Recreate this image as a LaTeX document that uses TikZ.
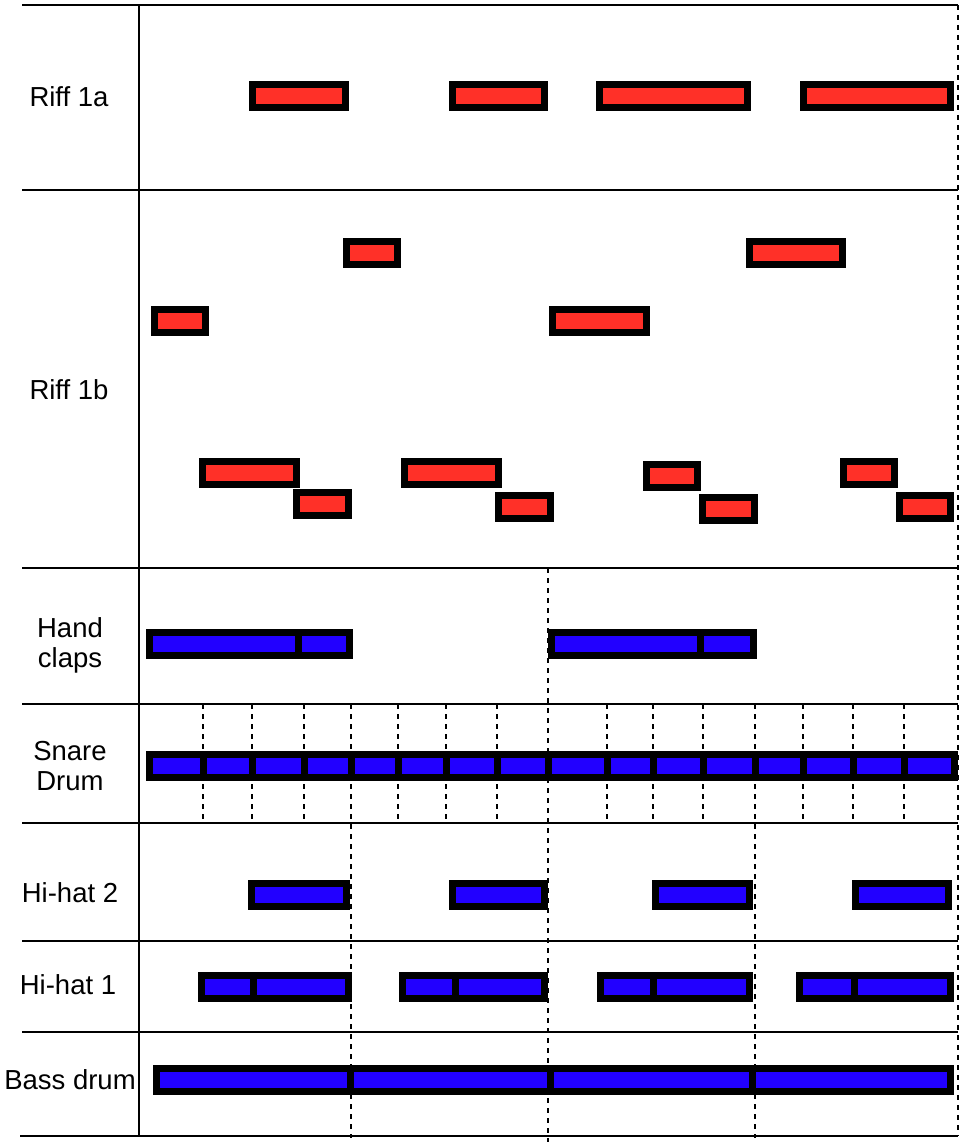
\documentclass[tikz,border=0pt]{standalone}
\usepackage{fontspec}
\setmainfont{Liberation Sans}
\usepackage{tikz}
\definecolor{riffred}{RGB}{255,48,40}
\definecolor{drumblue}{RGB}{34,0,255}

\begin{document}
\begin{tikzpicture}[x=1pt,y=-1pt,
  riff note/.style={rectangle,draw,line width=7pt,fill=riffred,inner sep=0pt,outer sep=0pt,minimum height=23pt,anchor=west},
  drum note/.style={riff note,fill=drumblue},
  grid line/.style={line width=2pt},
  beat line/.style={line width=2.8pt,dash pattern=on 5pt off 5pt},
  track name/.style={font=\fontsize{27.5}{30}\selectfont,align=center}]
\useasboundingbox (0,0) rectangle (968,1145);

% Grid
  \draw[grid line] (139,5) -- (139,1136);
  \draw[grid line] (22,5) -- (958,5);
  \draw[grid line] (22,190) -- (958,190);
  \draw[grid line] (22,568) -- (958,568);
  \draw[grid line] (22,704) -- (958,704);
  \draw[grid line] (22,823) -- (958,823);
  \draw[grid line] (22,941) -- (958,941);
  \draw[grid line] (22,1032) -- (958,1032);
  \draw[grid line] (20,1136) -- (958,1136);

% Beat lines
  \draw[beat line] (958,5) -- (958,1136);
  \draw[beat line] (548,568) -- (548,1142);
  \draw[beat line] (351,704) -- (351,1138);
  \draw[beat line] (755,704) -- (755,1138);
  \draw[beat line] (203,704) -- (203,823);
  \draw[beat line] (252,704) -- (252,823);
  \draw[beat line] (304,704) -- (304,823);
  \draw[beat line] (398,704) -- (398,823);
  \draw[beat line] (446,704) -- (446,823);
  \draw[beat line] (497,704) -- (497,823);
  \draw[beat line] (607,704) -- (607,823);
  \draw[beat line] (653,704) -- (653,823);
  \draw[beat line] (703,704) -- (703,823);
  \draw[beat line] (803,704) -- (803,823);
  \draw[beat line] (853,704) -- (853,823);
  \draw[beat line] (904,704) -- (904,823);

% Track names
  \node[track name] (riffa) at (69,97) {Riff 1a};
  \node[track name] (riffb) at (69,390) {Riff 1b};
  \node[track name] (claps) at (70,645) {Hand\\claps};
  \node[track name] (snare) at (70,766) {Snare\\Drum};
  \node[track name] (hihatb) at (70,893) {Hi-hat 2};
  \node[track name] (hihata) at (68,985) {Hi-hat 1};
  \node[track name] (bass) at (70,1080) {Bass drum};

% Riff 1a
  \node[riff note,minimum width=93pt] (ra1) at (252.5,96) {};
  \node[riff note,minimum width=92pt] (ra2) at (452.5,96) {};
  \node[riff note,minimum width=148pt] (ra3) at (599.5,96) {};
  \node[riff note,minimum width=147pt] (ra4) at (803.5,96) {};

% Riff 1b
  \node[riff note,minimum width=51pt] (rb1) at (154.5,321) {};
  \node[riff note,minimum width=94pt] (rb2) at (202.5,473) {};
  \node[riff note,minimum width=52pt] (rb3) at (296.5,504) {};
  \node[riff note,minimum width=51pt] (rb4) at (346.5,253) {};
  \node[riff note,minimum width=94pt] (rb5) at (404.5,473) {};
  \node[riff note,minimum width=52pt] (rb6) at (498.5,507) {};
  \node[riff note,minimum width=94pt] (rb7) at (552.5,321) {};
  \node[riff note,minimum width=51pt] (rb8) at (646.5,476) {};
  \node[riff note,minimum width=52pt] (rb9) at (702.5,509) {};
  \node[riff note,minimum width=93pt] (rb10) at (749.5,253) {};
  \node[riff note,minimum width=51pt] (rb11) at (843.5,473) {};
  \node[riff note,minimum width=51pt] (rb12) at (899.5,507) {};

% Hand claps
  \node[drum note,minimum width=148.5pt] (hc1) at (149.5,644) {};
  \node[drum note,minimum width=51.5pt] (hc2) at (298,644) {};
  \node[drum note,minimum width=148.5pt] (hc3) at (551.5,644) {};
  \node[drum note,minimum width=53.5pt] (hc4) at (700,644) {};

% Snare drum
  \node[drum note,minimum width=53.5pt] (sd1) at (149.5,765.5) {};
  \node[drum note,minimum width=49pt] (sd2) at (203,765.5) {};
  \node[drum note,minimum width=52pt] (sd3) at (252,765.5) {};
  \node[drum note,minimum width=47pt] (sd4) at (304,765.5) {};
  \node[drum note,minimum width=47pt] (sd5) at (351,765.5) {};
  \node[drum note,minimum width=48pt] (sd6) at (398,765.5) {};
  \node[drum note,minimum width=51pt] (sd7) at (446,765.5) {};
  \node[drum note,minimum width=51pt] (sd8) at (497,765.5) {};
  \node[drum note,minimum width=59pt] (sd9) at (548,765.5) {};
  \node[drum note,minimum width=46pt] (sd10) at (607,765.5) {};
  \node[drum note,minimum width=50pt] (sd11) at (653,765.5) {};
  \node[drum note,minimum width=52pt] (sd12) at (703,765.5) {};
  \node[drum note,minimum width=48pt] (sd13) at (755,765.5) {};
  \node[drum note,minimum width=50pt] (sd14) at (803,765.5) {};
  \node[drum note,minimum width=51pt] (sd15) at (853,765.5) {};
  \node[drum note,minimum width=50.5pt] (sd16) at (904,765.5) {};

% Hi-hat 2
  \node[drum note,minimum width=95pt] (hb1) at (251.5,895) {};
  \node[drum note,minimum width=92pt] (hb2) at (452.5,895) {};
  \node[drum note,minimum width=94pt] (hb3) at (655.5,895) {};
  \node[drum note,minimum width=93pt] (hb4) at (855.5,895) {};

% Hi-hat 1
  \node[drum note,minimum width=51.5pt] (ha1) at (201.5,987) {};
  \node[drum note,minimum width=95.5pt] (ha2) at (253,987) {};
  \node[drum note,minimum width=52.5pt] (ha3) at (402.5,987) {};
  \node[drum note,minimum width=89.5pt] (ha4) at (455,987) {};
  \node[drum note,minimum width=52.5pt] (ha5) at (600.5,987) {};
  \node[drum note,minimum width=96.5pt] (ha6) at (653,987) {};
  \node[drum note,minimum width=54.5pt] (ha7) at (799.5,987) {};
  \node[drum note,minimum width=96.5pt] (ha8) at (854,987) {};

% Bass drum
  \node[drum note,minimum width=193.5pt] (bd1) at (156.5,1080) {};
  \node[drum note,minimum width=200pt] (bd2) at (350,1080) {};
  \node[drum note,minimum width=202pt] (bd3) at (550,1080) {};
  \node[drum note,minimum width=198.5pt] (bd4) at (752,1080) {};

\end{tikzpicture}
\end{document}
